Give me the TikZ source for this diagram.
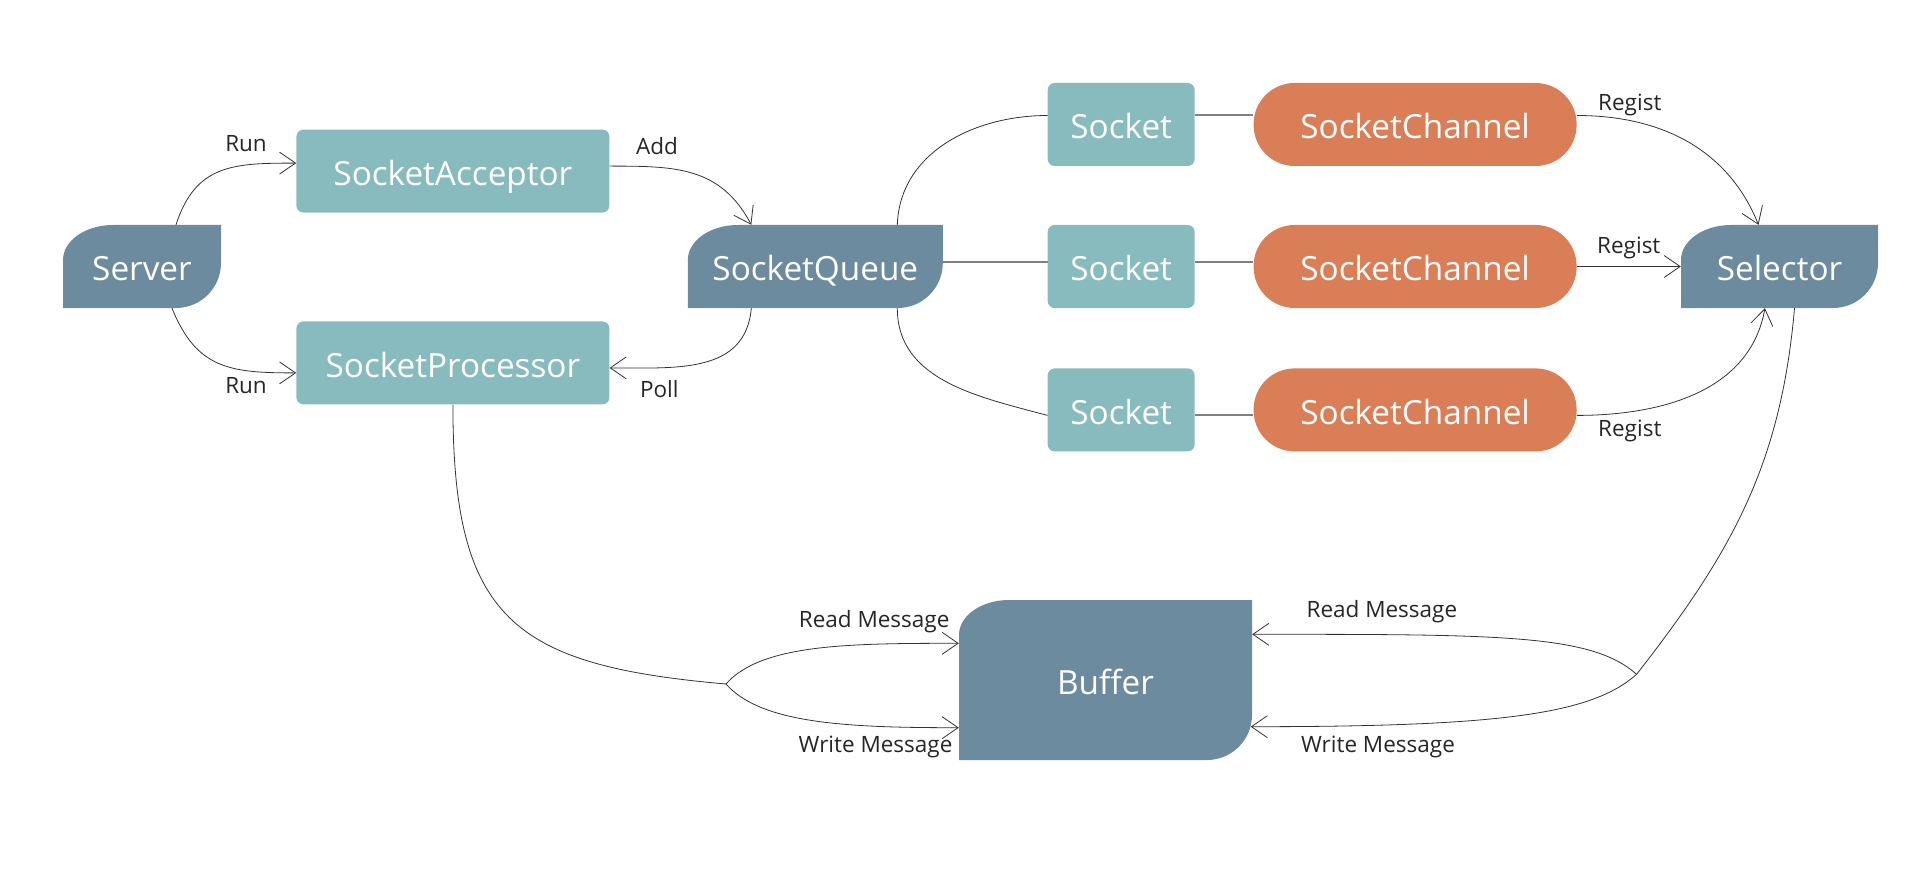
\documentclass[tikz,border=0pt]{standalone}
\usepackage{fontspec}
\setmainfont{Open Sans}
\usepackage{tikz}
\usetikzlibrary{arrows.meta,positioning}
\definecolor{slate}{HTML}{6D8B9F}
\definecolor{sockteal}{HTML}{87BBBD}
\definecolor{chanorange}{HTML}{D97E56}
\definecolor{edgegray}{HTML}{333333}
\definecolor{tiegray}{HTML}{808080}
\definecolor{labelgray}{HTML}{262626}
\tikzset{pre/.style={<-,>={Straight Barb[length=16pt,width=22pt]},line width=0.8pt,draw=edgegray},
		post/.style={->,>={Straight Barb[length=16pt,width=22pt]},line width=0.8pt,draw=edgegray},
		link/.style={line width=0.8pt,draw=edgegray},
		tie/.style={line width=2pt,draw=tiegray},
		lbl/.style={font=\fontsize{22.5pt}{27pt}\selectfont,text=labelgray,inner sep=0pt}}

\begin{document}
\begin{tikzpicture}[x=1pt,y=1pt,node distance=60pt and 60pt,
		sockbox/.style={rectangle,rounded corners=7pt,fill=sockteal,text=white,minimum height=83pt,inner sep=0pt,text height=28.4pt,text depth=0pt,font=\fontsize{33.3pt}{40pt}\selectfont},
		chan/.style={sockbox,rounded corners=41pt,fill=chanorange,minimum width=323pt},
		leaf/.style={rectangle,text=white,minimum height=83pt,inner sep=0pt,text height=28.4pt,text depth=0pt,font=\fontsize{33.3pt}{40pt}\selectfont,
			path picture={\fill[slate] (path picture bounding box.south west) -- ([yshift=-35pt]path picture bounding box.north west) arc[start angle=180,end angle=90,x radius=50pt,y radius=35pt] -- (path picture bounding box.north east) -- ([yshift=45pt]path picture bounding box.south east) arc[start angle=0,end angle=-90,radius=45pt] -- cycle;}}]
	\useasboundingbox (0,0) rectangle (1919,-869);
	\node[leaf,minimum width=158pt] (server) at (142,-266.5) {Server};
	\node[sockbox,minimum width=313pt] (acceptor) [above right=12pt and 75pt of server] {SocketAcceptor};
	\node[sockbox,minimum width=313pt] (processor) [below right=13pt and 75pt of server] {SocketProcessor};
	\node[leaf,minimum width=255pt] (queue) [below right=12pt and 78pt of acceptor] {SocketQueue};
	
	\node[sockbox,minimum width=147pt] (socket2) [right=104.5pt of queue] {Socket};
	\node[sockbox,minimum width=147pt] (socket1) [above=58.6pt of socket2] {Socket};
	\node[sockbox,minimum width=147pt] (socket3) [below=60pt of socket2] {Socket};
	\node[chan] (channel1) [right=58.5pt of socket1] {SocketChannel};
	\node[chan] (channel2) [right=58.5pt of socket2] {SocketChannel};
	\node[chan] (channel3) [right=58.5pt of socket3] {SocketChannel};
	\node[leaf,minimum width=197pt] (selector) [right=104pt of channel2] {Selector} edge[pre] node[lbl,above=7.5pt] {Regist} (channel2);
	
	\node[leaf,minimum width=293pt,minimum height=160pt] (buffer) at (1105.5,-680) {Buffer};
	\coordinate (fork-left) at (726,-684);
	\coordinate (fork-right) at (1636.6,-674.3);
	
	\draw[post] ([xshift=34pt]server.north) to[out=72,in=180,looseness=1.2] ([yshift=8pt]acceptor.west) node[lbl,above left=11pt and 29pt] {Run};
	\draw[post] ([xshift=30pt]server.south) to[out=-68,in=180,looseness=1.2] ([yshift=-10pt]processor.west) node[lbl,below left=4pt and 29pt] {Run};
	\draw[post] ([yshift=5pt]acceptor.east) node[lbl,above right=11pt and 26pt] {Add} to[out=0,in=118,looseness=1.1] ([xshift=-64pt]queue.north);
	\draw[post] ([xshift=-64pt]queue.south) to[out=-95,in=0,looseness=1.1] ([yshift=-5pt]processor.east) node[lbl,below right=12pt and 30pt] {Poll};
	
	\draw[link] ([xshift=82pt]queue.north) to[out=88,in=180] ([yshift=9pt]socket1.west);
	\draw[tie] ([yshift=4.8pt]queue.east) -- ([yshift=4.8pt]socket2.west);
	\draw[link] ([xshift=82pt]queue.south) to[out=-90,in=165] ([yshift=-5.5pt]socket3.west);
	\draw[tie] ([yshift=9pt]socket1.east) -- ([yshift=9pt]channel1.west);
	\draw[tie] ([yshift=4.8pt]socket2.east) -- ([yshift=4.8pt]channel2.west);
	\draw[tie] ([yshift=-5.5pt]socket3.east) -- ([yshift=-5.5pt]channel3.west);
	
	\draw[post] ([yshift=9pt]channel1.east) node[lbl,above right=-1pt and 21pt] {Regist} to[out=0,in=112] ([xshift=-21pt]selector.north);
	\draw[post] ([yshift=-5.5pt]channel3.east) node[lbl,below right=4pt and 21pt] {Regist} to[out=0,in=-100] ([xshift=-14.6pt]selector.south);
	
	\draw[link] ([xshift=15pt]selector.south) to[out=-95,in=52] (fork-right);
	\draw[post] (fork-right) .. controls +(-45pt,40pt) and +(250pt,0pt) .. ([yshift=45.7pt]buffer.east) node[lbl,above right=11pt and 54pt] {Read Message};
	\draw[post] (fork-right) .. controls +(-45pt,-40pt) and +(250pt,0pt) .. ([xshift=-1.5pt,yshift=-46.7pt]buffer.east) node[lbl,below right=9pt and 50pt] {Write Message};
	
	\draw[link] (processor.south) to[out=-90,in=175,looseness=1.4] (fork-left);
	\draw[post] (fork-left) .. controls +(35pt,40pt) and +(-110pt,0pt) .. ([yshift=36.7pt]buffer.west) node[lbl,above left=10pt and 9pt] {Read Message};
	\draw[post] (fork-left) .. controls +(35pt,-40pt) and +(-110pt,0pt) .. ([yshift=-47.7pt]buffer.west) node[lbl,below left=8pt and 6pt] {Write Message};
\end{tikzpicture}
\end{document}
